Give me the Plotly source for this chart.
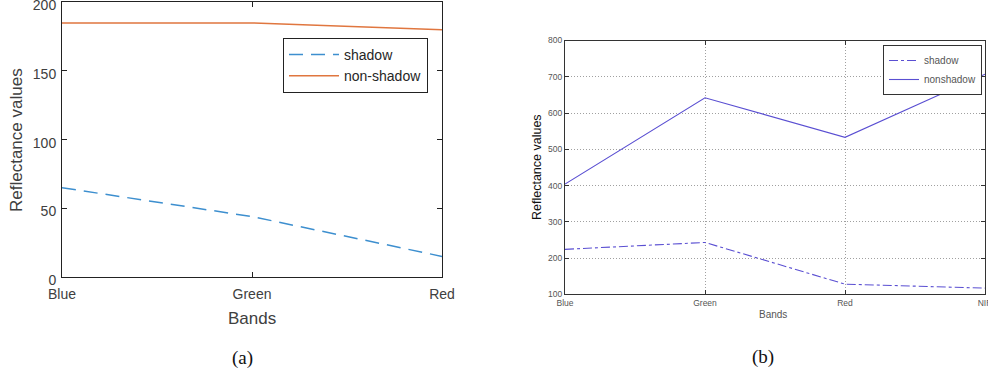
import plotly.graph_objects as go

# Panel (a): three visible bands
bands_a = ["Blue", "Green", "Red"]
shadow_a = [65, 44, 15]
nonshadow_a = [185, 185, 180]

# Panel (b): four bands including near infrared
bands_b = ["Blue", "Green", "Red", "NIR"]
shadow_b = [224, 243, 128, 117]
nonshadow_b = [404, 642, 533, 707]

W, H = 988, 380


def px_x(p):
    return p / W


def px_y(p):
    return 1 - p / H


SANS = "Liberation Sans, Arial, sans-serif"
SERIF = "Liberation Serif, Times New Roman, serif"

fig = go.Figure()

fig.add_trace(go.Scatter(
    x=bands_a, y=shadow_a, mode="lines", name="shadow",
    line=dict(color="#3d8fcf", width=1.5, dash="14px,8px"),
    xaxis="x", yaxis="y", legend="legend",
))
fig.add_trace(go.Scatter(
    x=bands_a, y=nonshadow_a, mode="lines", name="non-shadow",
    line=dict(color="#e0763f", width=1.5),
    xaxis="x", yaxis="y", legend="legend",
))
fig.add_trace(go.Scatter(
    x=bands_b, y=shadow_b, mode="lines", name="shadow",
    line=dict(color="#5a4fd2", width=1.1, dash="dashdot"),
    xaxis="x2", yaxis="y2", legend="legend2",
))
fig.add_trace(go.Scatter(
    x=bands_b, y=nonshadow_b, mode="lines", name="nonshadow",
    line=dict(color="#5a4fd2", width=1.1),
    xaxis="x2", yaxis="y2", legend="legend2",
))

axis_a = dict(
    showline=True, linecolor="#222222", linewidth=1, mirror="ticks",
    ticks="inside", ticklen=5, tickcolor="#222222", tickwidth=1,
    showgrid=False, zeroline=False,
    tickfont=dict(family=SANS, size=14, color="#404040"),
    ticklabeloverflow="allow", automargin=False,
)
axis_b = dict(
    showline=True, linecolor="#333333", linewidth=1, mirror="ticks",
    ticks="inside", ticklen=4, tickcolor="#333333", tickwidth=1,
    showgrid=True, gridcolor="#a0a0a0", gridwidth=1, griddash="1px,2px",
    zeroline=False, tickfont=dict(family=SANS, size=8.5, color="#555555"),
    ticklabeloverflow="allow", automargin=False,
)

fig.update_layout(
    template="none",
    width=W, height=H,
    margin=dict(l=0, r=0, t=0, b=0, autoexpand=False),
    paper_bgcolor="white", plot_bgcolor="white",
    xaxis=dict(axis_a, domain=[px_x(62), px_x(442)], anchor="y",
               type="category", range=[0, 2], ticklabelstandoff=4),
    yaxis=dict(axis_a, domain=[px_y(277), px_y(2.3)], anchor="x",
               range=[0, 200], tickvals=[0, 50, 100, 150, 200],
               ticklabelstandoff=2, ticklabelshift=3),
    xaxis2=dict(axis_b, domain=[px_x(565), px_x(985)], anchor="y2",
                type="category", range=[0, 3], ticklabelstandoff=0),
    yaxis2=dict(axis_b, domain=[px_y(294.3), px_y(40.5)], anchor="x2",
                range=[100, 800], dtick=100, ticklabelstandoff=0),
    legend=dict(
        x=px_x(283), y=px_y(38), xanchor="left", yanchor="top",
        bgcolor="white", bordercolor="#222222", borderwidth=1,
        font=dict(family=SANS, size=14, color="#262626"),
        tracegroupgap=0, itemwidth=50,
    ),
    legend2=dict(
        x=px_x(982), y=px_y(45), xanchor="right", yanchor="top",
        bgcolor="white", bordercolor="#333333", borderwidth=1,
        font=dict(family=SANS, size=10, color="#555555"),
        tracegroupgap=0, itemwidth=30,
    ),
    showlegend=True,
)

annotations = [
    dict(text="Reflectance values", x=px_x(16), y=px_y(140), textangle=-90,
         font=dict(family=SANS, size=17, color="#404040")),
    dict(text="Bands", x=px_x(252), y=px_y(318),
         font=dict(family=SANS, size=17, color="#404040")),
    dict(text="(a)", x=px_x(242), y=px_y(358),
         font=dict(family=SERIF, size=19, color="#111111")),
    dict(text="Reflectance values", x=px_x(537), y=px_y(167), textangle=-90,
         font=dict(family=SANS, size=12.5, color="#111111")),
    dict(text="Bands", x=px_x(773), y=px_y(314),
         font=dict(family=SANS, size=10, color="#555555")),
    dict(text="(b)", x=px_x(763), y=px_y(357),
         font=dict(family=SERIF, size=19, color="#111111")),
]
for a in annotations:
    a.update(xref="paper", yref="paper", showarrow=False,
             xanchor="center", yanchor="middle")
fig.update_layout(annotations=annotations)

# Remove the default page margin so the figure fills the window exactly.
fig.write_html(
    "out.html",
    post_script="document.body.style.margin='0';"
                "document.body.style.overflow='hidden';",
)
